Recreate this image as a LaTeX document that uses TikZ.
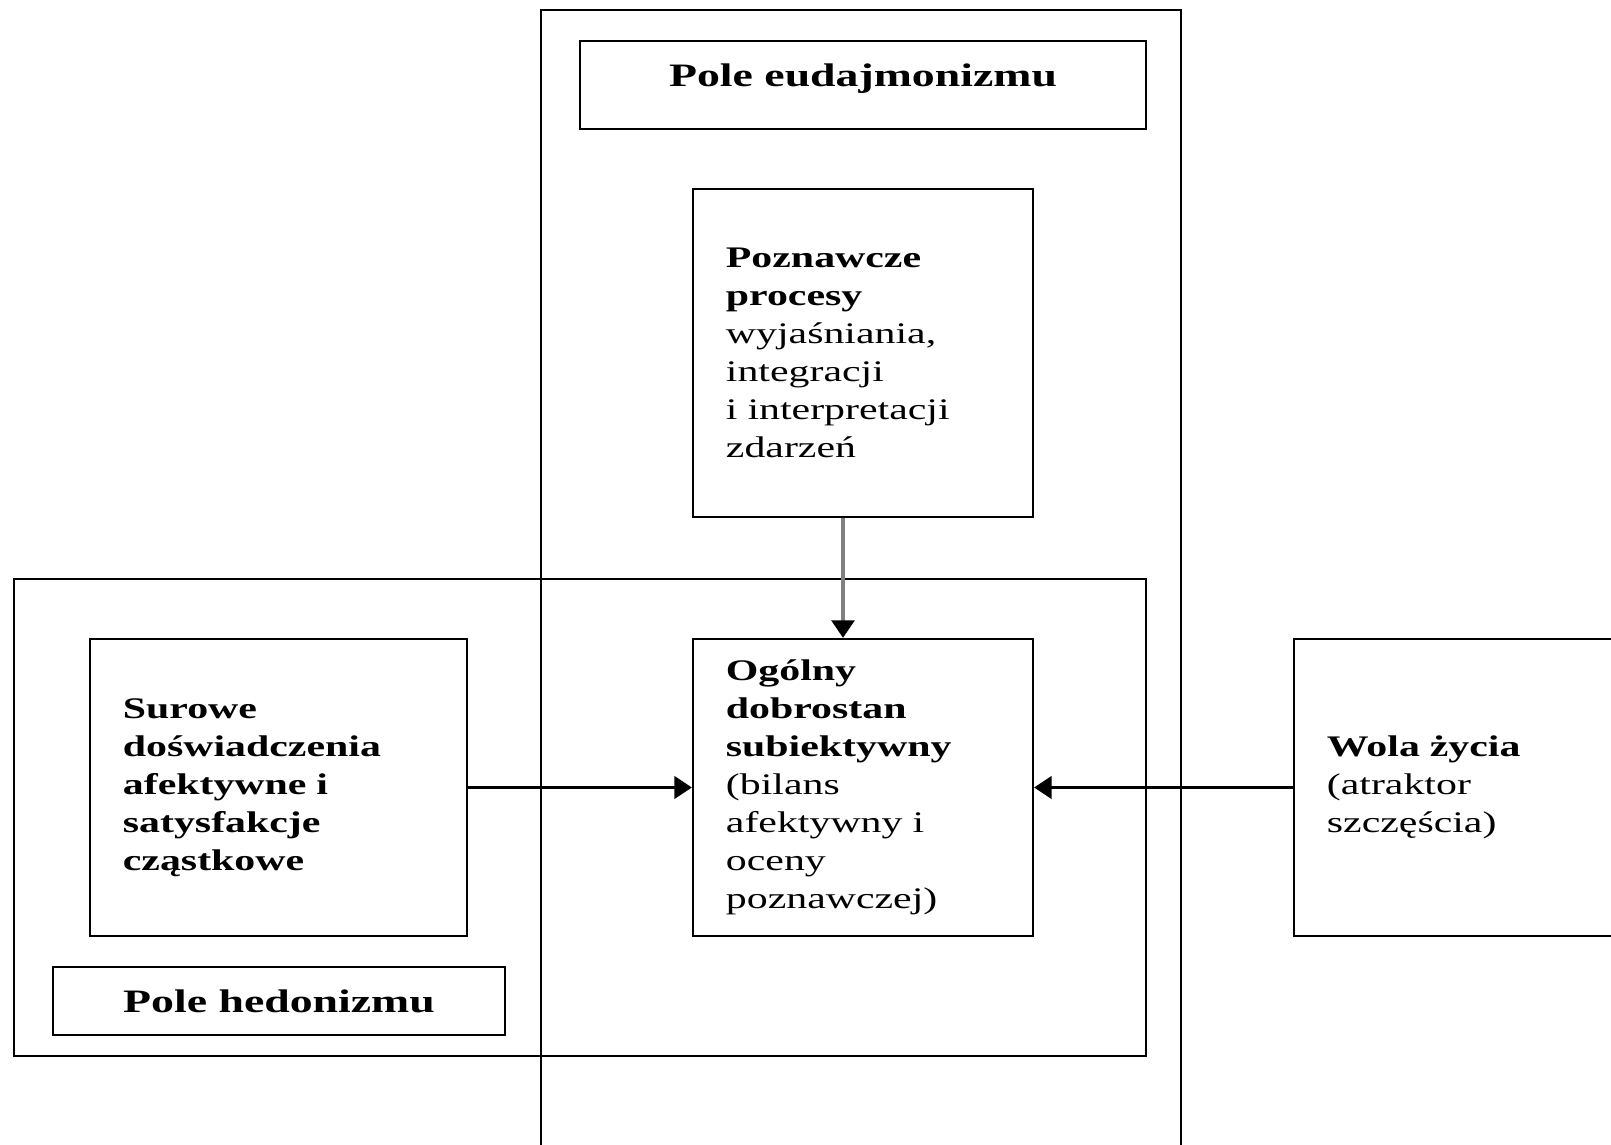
\documentclass[tikz,border=0pt]{standalone}
\usepackage{fontspec}
\setmainfont{Liberation Serif}[FakeStretch=1.4]
\usetikzlibrary{arrows.meta,positioning,calc}
\newcommand{\boxfont}{\fontsize{8.5}{10.8}\selectfont}
\newcommand{\namefont}{\fontsize{9.3}{11}\selectfont\bfseries}
\tikzset{
  >={Triangle[width=6.5pt,length=5pt]},
  field/.style={draw,line width=0.6pt,inner sep=0pt},
  box/.style={draw,line width=0.6pt,align=left,inner xsep=0.33cm,inner ysep=0pt,font=\boxfont},
  fieldname/.style={draw,line width=0.6pt,align=center,inner sep=0pt,font=\namefont},
  link/.style={->,line width=0.6pt}
}

\begin{document}
\begin{tikzpicture}[x=0.01cm,y=-0.01cm]
\useasboundingbox (0,0) rectangle (1611,1145);
\clip (0,0) rectangle (1611,1145);
% fields
\node[field,minimum width=6.4cm,minimum height=11.9cm](eud) at (861,605){};
\node[field,minimum width=11.32cm,minimum height=4.77cm](hed) at (580,817.5){};
\node[fieldname,minimum width=5.66cm,minimum height=0.88cm,text depth=0.2cm](eudname) at (863,85){Pole eudajmonizmu};
\node[fieldname,minimum width=4.52cm,minimum height=0.68cm](hedname) at (279,1001){Pole hedonizmu};
% boxes
\node[box,text width=2.74cm,minimum height=3.28cm](pozn) at (863,353){\textbf{Poznawcze}\\\textbf{procesy}\\wyjaśniania,\\integracji\\i interpretacji\\zdarzeń};
\node[box,text width=2.74cm,minimum height=2.97cm](ogolny) at (863,787.5){\textbf{Ogólny}\\\textbf{dobrostan}\\\textbf{subiektywny}\\(bilans\\afektywny i\\oceny\\poznawczej)};
\node[box,text width=3.11cm,minimum height=2.97cm](surowe) at (278.5,787.5){\textbf{Surowe}\\\textbf{doświadczenia}\\\textbf{afektywne i}\\\textbf{satysfakcje}\\\textbf{cząstkowe}};
\node[box,text width=3.54cm,minimum height=2.97cm](wola) at (1504,787.5){\textbf{Wola życia}\\(atraktor\\szczęścia)};
% connectors
\coordinate (drop) at (843,0);
\draw[link,draw=gray,line width=1pt,-{Triangle[width=6.5pt,length=5pt,color=black]}](pozn.south -| drop)--(ogolny.north -| drop);
\draw[link](surowe)--(ogolny);
\draw[link](wola)--(ogolny);
\end{tikzpicture}
\end{document}
